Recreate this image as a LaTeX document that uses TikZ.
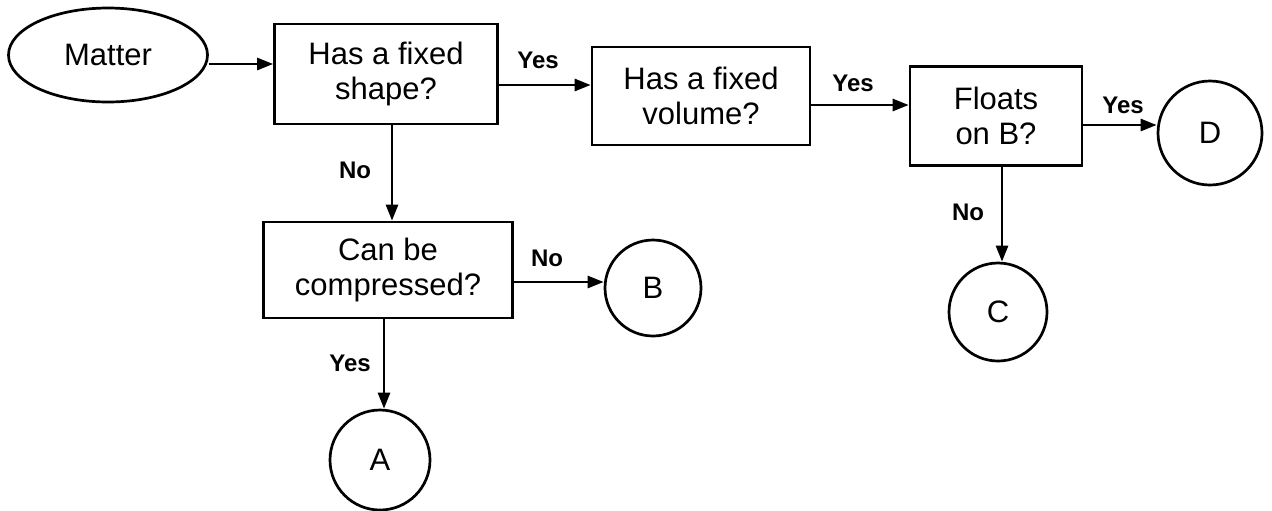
\documentclass[tikz,border=0pt]{standalone}
\usepackage{fontspec}
\setmainfont{Liberation Sans}
\usetikzlibrary{shapes.geometric,arrows.meta,calc}
\tikzset{
  base/.style={draw=black, line width=1.35pt, align=center, inner sep=2pt,
    font=\fontsize{15.5}{17.5}\selectfont},
  decbox/.style={base, rectangle},
  endcircle/.style={base, circle, inner sep=0pt},
  startell/.style={base, ellipse, inner sep=0pt},
  arr/.style={line width=1.35pt, -{Triangle[length=8pt,width=6pt]}},
  lbl/.style={font=\fontsize{12}{14}\selectfont\bfseries, inner sep=0pt}
}
\begin{document}
\begin{tikzpicture}[x=0.5pt, y=-0.5pt]
\useasboundingbox (0,0) rectangle (1272,510);
\node[startell, minimum width=99.5pt, minimum height=47pt] (matter) at (108,55) {Matter};
\node[decbox, minimum width=111.5pt, minimum height=50pt] (shape) at (386,74) {Has a fixed\\shape?};
\node[decbox, minimum width=109pt, minimum height=49pt] (volume) at (701,96) {Has a fixed\\volume?};
\node[decbox, minimum width=86pt, minimum height=49.5pt] (floats) at (996,116) {Floats\\on B?};
\node[endcircle, minimum size=52pt] (D) at (1210,133) {D};
\node[endcircle, minimum size=49pt] (C) at (998,312) {C};
\node[decbox, minimum width=124.5pt, minimum height=48pt] (comp) at (388,270) {Can be\\compressed?};
\node[endcircle, minimum size=48pt] (B) at (653,288) {B};
\node[endcircle, minimum size=50pt] (A) at (380,460) {A};

\draw[arr] ([yshift=-4.5pt]matter.east) -- ([yshift=-4.5pt]matter.east -| shape.west);
\draw[arr] ([yshift=-5.5pt]shape.east) -- ([yshift=-5.5pt]shape.east -| volume.west);
\draw[arr] ([yshift=-4.5pt]volume.east) -- ([yshift=-4.5pt]volume.east -| floats.west);
\draw[arr] ([yshift=-4.5pt]floats.east) -- ([yshift=-4.5pt]floats.east -| D.west);
\draw[arr] ([xshift=3pt]shape.south) -- ([xshift=3pt]shape.south |- comp.north);
\draw[arr] ([yshift=-6pt]comp.east) -- ([yshift=-6pt]comp.east -| B.west);
\draw[arr] ([xshift=-2pt]comp.south) -- ([xshift=-2pt]comp.south |- A.north);
\draw[arr] ([xshift=3pt]floats.south) -- ([xshift=3pt]floats.south |- C.north);

\node[lbl] (l1) at (538,60) {Yes};
\node[lbl] (l2) at (853,83) {Yes};
\node[lbl] (l3) at (1123,105) {Yes};
\node[lbl] (l4) at (355,170) {No};
\node[lbl] (l5) at (547,258) {No};
\node[lbl] (l6) at (350,363) {Yes};
\node[lbl] (l7) at (968,212) {No};
\end{tikzpicture}
\end{document}
